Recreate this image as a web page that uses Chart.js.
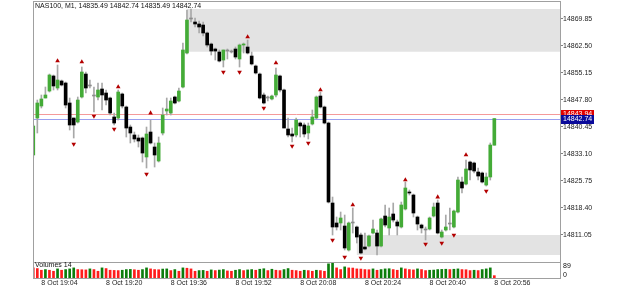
<!DOCTYPE html>
<html>
<head>
<meta charset="utf-8">
<script src="https://cdn.jsdelivr.net/npm/chart.js@4.4.0/dist/chart.umd.min.js"></script>
<style>
html, body { margin: 0; padding: 0; background: #fff; }
#wrap { position: relative; width: 625px; height: 289px; }
#price, #vol { position: absolute; left: 0; }
#price { top: 0; }
#vol { top: 262px; }
</style>
</head>
<body>
<div id="wrap">
<canvas id="price" width="625" height="263"></canvas>
<canvas id="vol" width="625" height="27"></canvas>
</div>
<script>
// NAS100 M1, one bar per minute from 19:02 to 20:56 (x = bar number)
const symbolTitle = 'NAS100, M1, 14835.49 14842.74 14835.49 14842.74';

const opens = [
  14832.82, 14842.89, 14846.16, 14848.34, 14850.24, 14854.33, 14851.06, 14852.97, 14852.42, 14846.98,
  14842.89, 14841.80, 14848.61, 14854.87, 14851.61, 14848.88, 14848.61, 14850.79, 14849.70, 14848.34,
  14843.17, 14842.89, 14849.43, 14845.89, 14840.44, 14838.27, 14837.45, 14837.45, 14832.28, 14839.08,
  14835.00, 14831.19, 14838.81, 14844.80, 14844.25, 14848.61, 14847.52, 14851.33, 14860.59, 14869.85,
  14869.03, 14868.49, 14868.21, 14866.04, 14863.04, 14861.68, 14860.86, 14858.68, 14861.13, 14860.86,
  14861.68, 14858.96, 14862.77, 14862.22, 14859.77, 14857.05, 14854.87, 14849.16, 14848.34, 14848.07,
  14849.16, 14854.33, 14850.52, 14839.90, 14838.54, 14838.27, 14841.53, 14840.99, 14838.81, 14841.26,
  14842.89, 14848.88, 14845.89, 14841.53, 14819.75, 14814.31, 14814.31, 14813.49, 14806.96, 14814.31,
  14813.22, 14811.04, 14807.77, 14808.04, 14811.58, 14811.58, 14808.04, 14816.21, 14812.95, 14816.76,
  14814.58, 14813.22, 14818.12, 14822.75, 14821.93, 14815.94, 14813.76, 14812.40, 14812.67, 14816.21,
  14819.75, 14810.49, 14812.40, 14814.03, 14813.22, 14817.30, 14825.47, 14824.92, 14830.91, 14830.64,
  14828.19, 14827.92, 14824.65, 14826.83, 14835.49
];
const highs = [
  14841.26, 14847.79, 14849.16, 14851.33, 14854.87, 14854.60, 14857.32, 14853.24, 14852.70, 14848.34,
  14842.89, 14848.61, 14856.78, 14855.42, 14853.24, 14851.33, 14852.42, 14852.42, 14850.52, 14848.61,
  14844.25, 14850.52, 14849.70, 14846.16, 14840.99, 14839.08, 14838.27, 14837.72, 14840.44, 14842.35,
  14836.09, 14837.72, 14845.62, 14848.34, 14848.34, 14848.88, 14851.06, 14863.31, 14872.30, 14872.57,
  14870.12, 14869.30, 14869.03, 14866.31, 14863.31, 14861.95, 14861.41, 14861.41, 14861.68, 14861.41,
  14862.22, 14863.04, 14863.31, 14864.13, 14860.86, 14857.32, 14855.15, 14849.70, 14848.88, 14849.16,
  14856.51, 14854.60, 14850.79, 14842.89, 14840.17, 14842.89, 14841.80, 14841.53, 14841.53, 14845.07,
  14848.88, 14849.97, 14846.16, 14841.80, 14821.38, 14815.94, 14817.30, 14816.48, 14814.58, 14818.39,
  14813.49, 14811.58, 14811.58, 14811.04, 14815.12, 14812.40, 14815.67, 14819.21, 14818.39, 14819.75,
  14815.12, 14820.02, 14825.47, 14823.29, 14822.20, 14816.21, 14814.03, 14813.22, 14815.94, 14819.75,
  14820.57, 14812.40, 14816.48, 14818.39, 14817.85, 14826.83, 14826.83, 14831.46, 14831.19, 14830.91,
  14829.28, 14828.19, 14827.92, 14836.09, 14842.74
];
const lows = [
  14832.00, 14838.81, 14845.62, 14848.34, 14849.97, 14850.52, 14850.52, 14851.61, 14845.62, 14839.63,
  14837.45, 14841.53, 14848.34, 14849.70, 14851.06, 14844.53, 14847.79, 14845.07, 14846.43, 14843.71,
  14840.99, 14842.35, 14845.62, 14837.72, 14836.09, 14836.36, 14835.00, 14830.91, 14829.28, 14835.82,
  14829.55, 14830.91, 14838.27, 14843.71, 14843.71, 14846.71, 14847.25, 14851.06, 14860.32, 14869.03,
  14867.67, 14866.04, 14865.22, 14862.22, 14860.05, 14858.68, 14858.14, 14856.78, 14858.96, 14860.59,
  14858.96, 14856.78, 14860.59, 14860.32, 14857.32, 14854.87, 14848.07, 14846.71, 14847.52, 14847.79,
  14848.61, 14849.97, 14840.17, 14837.72, 14836.36, 14837.72, 14837.72, 14837.72, 14837.18, 14840.99,
  14842.62, 14845.62, 14841.26, 14819.75, 14811.04, 14812.40, 14812.40, 14806.96, 14806.68, 14811.58,
  14808.86, 14805.87, 14806.96, 14807.77, 14811.31, 14805.59, 14807.77, 14813.22, 14811.04, 14814.58,
  14811.04, 14812.95, 14817.85, 14821.93, 14815.94, 14812.40, 14811.58, 14809.68, 14812.40, 14815.94,
  14811.31, 14810.22, 14812.13, 14812.40, 14812.95, 14817.03, 14822.47, 14824.65, 14826.01, 14827.92,
  14826.01, 14825.20, 14824.38, 14826.01, 14835.49
];
const closes = [
  14840.72, 14846.98, 14848.07, 14849.16, 14854.60, 14851.61, 14853.24, 14851.88, 14846.43, 14840.99,
  14840.99, 14847.79, 14855.42, 14851.06, 14851.61, 14848.88, 14850.52, 14849.16, 14847.79, 14844.25,
  14841.53, 14849.97, 14846.16, 14840.17, 14838.81, 14837.18, 14836.63, 14833.36, 14838.54, 14836.09,
  14832.82, 14836.09, 14843.71, 14845.34, 14847.52, 14846.98, 14850.24, 14861.41, 14869.57, 14869.85,
  14868.49, 14867.67, 14866.04, 14862.77, 14861.13, 14861.13, 14858.41, 14861.41, 14861.13, 14860.86,
  14859.50, 14862.77, 14863.04, 14860.59, 14857.60, 14855.15, 14848.34, 14846.98, 14848.34, 14848.88,
  14854.60, 14850.52, 14840.17, 14838.27, 14837.99, 14842.35, 14840.72, 14838.54, 14840.72, 14843.17,
  14848.61, 14845.89, 14841.53, 14820.02, 14813.22, 14813.22, 14815.67, 14807.50, 14814.31, 14814.31,
  14810.49, 14806.14, 14807.23, 14810.77, 14812.67, 14808.04, 14815.40, 14813.76, 14815.94, 14815.12,
  14813.49, 14819.21, 14823.84, 14822.47, 14817.03, 14814.03, 14812.95, 14812.40, 14815.67, 14818.66,
  14811.58, 14811.86, 14813.22, 14814.03, 14817.57, 14826.01, 14823.84, 14829.01, 14828.74, 14828.46,
  14827.10, 14825.47, 14826.83, 14835.54, 14842.74
];
const volumes = [
  60, 56, 46, 50, 46, 40, 54, 46, 50, 54,
  60, 50, 49, 48, 54, 50, 40, 60, 56, 46,
  45, 44, 46, 50, 51, 49, 46, 50, 60, 54,
  50, 49, 53, 54, 44, 50, 40, 60, 58, 54,
  40, 44, 45, 40, 48, 44, 47, 50, 42, 40,
  46, 50, 44, 48, 50, 46, 52, 55, 44, 52,
  46, 44, 50, 56, 46, 44, 40, 46, 44, 40,
  46, 44, 40, 84, 89, 60, 50, 66, 60, 59,
  54, 53, 50, 49, 54, 46, 50, 54, 55, 50,
  46, 60, 54, 50, 48, 54, 50, 44, 46, 47,
  50, 51, 52, 50, 52, 54, 50, 49, 44, 46,
  44, 50, 54, 60, 14
];

// fractal arrows
const upBars = [6, 12, 21, 29, 53, 60, 71, 79, 92, 100, 107];
const upLevels = [14858.41, 14858.14, 14851.33, 14844.25, 14864.95, 14857.87, 14850.52, 14819.21, 14826.01, 14821.38, 14832.82];
const downBars = [10, 15, 20, 28, 47, 51, 57, 64, 68, 74, 77, 81, 97, 101, 104, 112];
const downLevels = [14835.82, 14843.44, 14839.90, 14827.65, 14855.42, 14855.42, 14845.62, 14835.27, 14836.09, 14809.68, 14805.05, 14804.78, 14808.59, 14808.86, 14811.04, 14823.02];

// supply / demand zones
const zoneStart = [38, 80];
const zoneTop = [14872.57, 14811.04];
const zoneBottom = [14860.94, 14805.59];

const bid = 14842.74;
const ask = 14843.94;

const priceTicks = [14811.05, 14818.40, 14825.75, 14833.10, 14840.45, 14847.80, 14855.15, 14862.50, 14869.85];
const timeTickBars = [2, 18, 34, 50, 66, 82, 98, 114];
const timeTickLabels = ['8 Oct 19:04', '8 Oct 19:20', '8 Oct 19:36', '8 Oct 19:52', '8 Oct 20:08', '8 Oct 20:24', '8 Oct 20:40', '8 Oct 20:56'];
const volTicks = [0, 89];

const FONT = '"Liberation Sans", Arial, sans-serif';
const idx = closes.map((c, i) => i);
const bodyColor = closes.map((c, i) => c > opens[i] ? '#44ab37' : (c < opens[i] ? '#000000' : '#8c8c8c'));
const volColor = volumes.map((v, i) => i > 0 && v > volumes[i - 1] ? '#0c7d0c' : '#ff1c1c');

function line(ctx, x0, y0, x1, y1) {
  ctx.beginPath(); ctx.moveTo(x0, y0); ctx.lineTo(x1, y1); ctx.stroke();
}

const pricePane = {
  id: 'pricePane',
  beforeDatasetsDraw(chart) {
    const { ctx, chartArea: a, scales: { x, y } } = chart;
    ctx.save();
    ctx.fillStyle = '#e3e3e3';
    zoneStart.forEach((s, k) => {
      const x0 = x.getPixelForValue(s);
      const y0 = y.getPixelForValue(zoneTop[k]);
      const y1 = y.getPixelForValue(zoneBottom[k]);
      ctx.fillRect(x0, y0, a.right - x0, y1 - y0);
    });
    ctx.lineWidth = 1;
    [[ask, '#f59a9a'], [bid, '#9aa0f0']].forEach(([p, c]) => {
      const py = Math.round(y.getPixelForValue(p)) + 0.5;
      ctx.strokeStyle = c;
      line(ctx, a.left, py, a.right, py);
    });
    ctx.restore();
  },
  afterDraw(chart) {
    const { ctx, chartArea: a, scales: { y } } = chart;
    ctx.save();
    ctx.strokeStyle = '#a0a0a0';
    ctx.lineWidth = 1;
    ctx.strokeRect(a.left + 0.5, a.top + 0.5, a.right - a.left, a.bottom - a.top);
    ctx.font = '7px ' + FONT;
    ctx.textBaseline = 'middle';
    ctx.fillStyle = '#111';
    ctx.fillText(symbolTitle, a.left + 2, a.top + 5);
    [[ask, '#e00000'], [bid, '#0a0a9a']].forEach(([p, c]) => {
      const py = y.getPixelForValue(p);
      ctx.fillStyle = c;
      ctx.fillRect(a.right + 1, Math.round(py) - 4, 33, 9);
      ctx.fillStyle = '#fff';
      ctx.fillText(p.toFixed(2), a.right + 3, Math.round(py) + 0.5);
    });
    ctx.restore();
  }
};

const volPane = {
  id: 'volPane',
  afterDraw(chart) {
    const { ctx, chartArea: a, scales: { y } } = chart;
    ctx.save();
    ctx.strokeStyle = '#a0a0a0';
    ctx.lineWidth = 1;
    line(ctx, a.left + 0.5, 0, a.left + 0.5, a.bottom + 0.5);
    line(ctx, a.right + 0.5, 0, a.right + 0.5, a.bottom + 0.5);
    line(ctx, a.left, a.bottom + 0.5, a.right + 1, a.bottom + 0.5);
    ctx.font = '7px ' + FONT;
    ctx.textBaseline = 'middle';
    ctx.fillStyle = '#111';
    ctx.fillText('Volumes ' + volumes[volumes.length - 1], a.left + 2, a.top + 2.5);
    volTicks.forEach(v => {
      const py = y.getPixelForValue(v) + (v === 0 ? -3.3 : 3);
      ctx.fillText(String(v), a.right + 3, py);
    });
    ctx.restore();
  }
};

const xRange = { type: 'linear', min: -0.07, max: 130.24, offset: false, grid: { display: false, drawTicks: false }, border: { display: false } };

new Chart(document.getElementById('price'), {
  type: 'bar',
  data: {
    datasets: [
      {
        type: 'scatter', data: upBars.map((b, k) => ({ x: b, y: upLevels[k] })),
        pointStyle: 'triangle', rotation: 0, radius: 2.7, backgroundColor: '#b30000', borderWidth: 0, order: 0
      },
      {
        type: 'scatter', data: downBars.map((b, k) => ({ x: b, y: downLevels[k] })),
        pointStyle: 'triangle', rotation: 180, radius: 2.7, backgroundColor: '#b30000', borderWidth: 0, order: 0
      },
      {
        data: idx.map(i => ({ x: i, y: [opens[i], closes[i]] })),
        backgroundColor: bodyColor, grouped: false, barThickness: 3, minBarLength: 1, order: 1
      },
      {
        data: idx.map(i => ({ x: i, y: [lows[i], highs[i]] })),
        backgroundColor: '#a8a8a8', grouped: false, barThickness: 1, order: 2
      }
    ]
  },
  options: {
    responsive: false, animation: false, devicePixelRatio: 1,
    layout: { autoPadding: false, padding: { left: 33, top: 1, right: 0, bottom: 1 } },
    plugins: { legend: { display: false }, tooltip: { enabled: false } },
    scales: {
      x: { ...xRange, display: false },
      y: {
        type: 'linear', position: 'right', min: 14803.69, max: 14874.75,
        afterBuildTicks: s => { s.ticks = priceTicks.map(v => ({ value: v })); },
        afterFit: s => { s.width = 65; s.paddingTop = 0; s.paddingBottom = 0; },
        grid: { drawOnChartArea: false, tickLength: 3, color: '#808080' },
        border: { display: false },
        ticks: { padding: 0, color: '#1e1e1e', font: { family: FONT, size: 7 }, callback: v => v.toFixed(2) }
      }
    }
  },
  plugins: [pricePane]
});

new Chart(document.getElementById('vol'), {
  type: 'bar',
  data: {
    datasets: [{
      data: idx.map(i => ({ x: i, y: volumes[i] })),
      backgroundColor: volColor, grouped: false, barThickness: 2
    }]
  },
  options: {
    responsive: false, animation: false, devicePixelRatio: 1,
    layout: { autoPadding: false, padding: { left: 33, top: 1, right: 0, bottom: 0 } },
    plugins: { legend: { display: false }, tooltip: { enabled: false } },
    scales: {
      x: {
        ...xRange, display: true,
        afterBuildTicks: s => { s.ticks = timeTickBars.map(v => ({ value: v })); },
        afterFit: s => { s.height = 11; s.paddingLeft = 0; s.paddingRight = 0; },
        ticks: {
          autoSkip: false, maxRotation: 0, minRotation: 0, align: 'start', padding: 1,
          color: '#1e1e1e', font: { family: FONT, size: 7 },
          callback: (v, i) => timeTickLabels[i]
        }
      },
      y: {
        type: 'linear', position: 'right', min: 0, max: 89,
        ticks: { display: false }, grid: { display: false, drawTicks: false }, border: { display: false },
        afterFit: s => { s.width = 65; s.paddingTop = 0; s.paddingBottom = 0; }
      }
    }
  },
  plugins: [volPane]
});
</script>
</body>
</html>
